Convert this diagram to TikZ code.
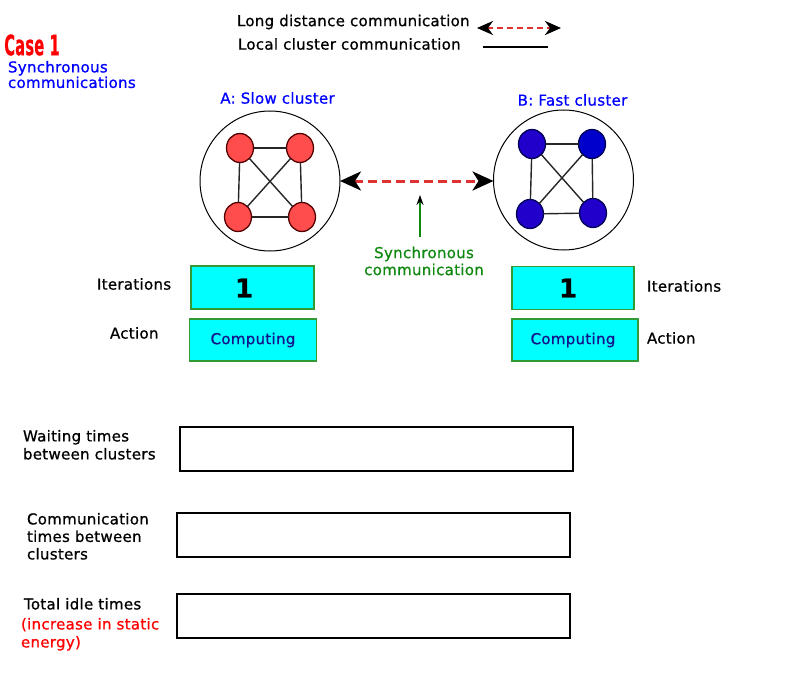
\documentclass[tikz,border=0pt]{standalone}
\usepackage{graphicx}
\usepackage{fontspec}
\setmainfont[LetterSpace=2,FakeBold=0.8]{DejaVu Sans}
\usetikzlibrary{arrows.meta,shapes.geometric}
\definecolor{nodered}{RGB}{255,77,77}
\definecolor{nodeborder}{RGB}{85,0,0}
\definecolor{nodeblue}{RGB}{34,0,204}
\definecolor{nodeblueb}{RGB}{0,0,204}
\definecolor{navyborder}{RGB}{0,0,85}
\definecolor{linkred}{RGB}{221,51,51}
\definecolor{boxgreen}{RGB}{51,153,51}
\definecolor{boxcyan}{RGB}{0,255,255}
\definecolor{txtgreen}{RGB}{17,136,17}
\definecolor{txtblue}{RGB}{0,0,255}
\definecolor{compnavy}{RGB}{20,20,140}
\definecolor{casered}{RGB}{255,0,0}
\begin{document}
\begin{tikzpicture}[x=1pt,y=-1pt,
  font=\fontsize{15}{18}\selectfont,
  every node/.style={inner sep=0pt, outer sep=0pt},
  pcred/.style={ellipse, draw=nodeborder, line width=1.3pt, fill=nodered, minimum width=27pt, minimum height=29pt},
  pcblue/.style={ellipse, draw=navyborder, line width=1.3pt, fill=nodeblue, minimum width=27pt, minimum height=29pt},
  clus/.style={circle, draw=black, line width=1pt, minimum size=140pt},
  link/.style={black!85, line width=1.4pt},
  itbox/.style={draw=boxgreen, line width=1.3pt, fill=boxcyan, minimum width=123pt, minimum height=43pt},
  acbox/.style={draw=boxgreen, line width=1.3pt, fill=boxcyan, minimum width=127pt, minimum height=42pt},
  timebox/.style={draw=black, line width=1.3pt, fill=white, minimum width=393pt, minimum height=44pt},
  lbl/.style={anchor=west, text=black},
  longlink/.style={linkred, line width=3pt, dash pattern=on 9pt off 5pt},
  bigtip/.style={arrows={Stealth[color=black,length=21pt,width=19pt,inset=6pt]-Stealth[color=black,length=21pt,width=19pt,inset=6pt]}},
  smalltip/.style={arrows={Stealth[color=black,length=16pt,width=14pt,inset=5pt]-Stealth[color=black,length=16pt,width=14pt,inset=5pt]}}
]
\useasboundingbox (0,0) rectangle (800,698);
\fill[white] (0,0) rectangle (800,698);

% Legend
\node[lbl] (leg1) at (237,22) {Long distance communication};
\node[lbl] (leg2) at (238,44) {Local cluster communication};
\coordinate (la1) at (477,28);
\coordinate (la2) at (561,28);
\draw[longlink, line width=2.8pt, dash pattern=on 6pt off 4pt, smalltip] (la1) -- (la2);
\coordinate (ll1) at (483,47);
\coordinate (ll2) at (548,47);
\draw[black, line width=1.3pt] (ll1) -- (ll2);

% Case title
\node[text=casered, font=\fontsize{28}{28}\selectfont\bfseries] (case) at (32,45) {\scalebox{0.52}[1]{Case 1}};
\node[text=txtblue, anchor=north west, align=left, font=\fontsize{15}{14}\selectfont] (sync) at (8,61) {Synchronous\\communications};

% Cluster A
\node[text=txtblue] (atitle) at (277.5,98) {A: Slow cluster};
\node[clus] (ca) at (270,181) {};
\node[pcred] (a1) at (240,148) {};
\node[pcred] (a2) at (300,148) {};
\node[pcred] (a3) at (238,217) {};
\node[pcred] (a4) at (302,217) {};
\draw[link] (a1) -- (a2);
\draw[link] (a1) -- (a3);
\draw[link] (a2) -- (a4);
\draw[link] (a3) -- (a4);
\draw[link] (a1) -- (a4);
\draw[link] (a2) -- (a3);

% Cluster B
\node[text=txtblue] (btitle) at (572.5,100) {B: Fast cluster};
\node[clus] (cb) at (563.5,180) {};
\node[pcblue] (b1) at (532,144) {};
\node[pcblue, fill=nodeblueb] (b2) at (592,144) {};
\node[pcblue] (b3) at (530,214) {};
\node[pcblue] (b4) at (593,213) {};
\draw[link] (b1) -- (b2);
\draw[link] (b1) -- (b3);
\draw[link] (b2) -- (b4);
\draw[link] (b3) -- (b4);
\draw[link] (b1) -- (b4);
\draw[link] (b2) -- (b3);

% Long distance link
\draw[longlink, bigtip] (ca.east |- 0,181) -- (cb.west |- 0,181);

% Synchronous communication annotation
\coordinate (gs) at (420,237);
\coordinate (ge) at (420,195);
\draw[txtgreen, line width=1.5pt, -{Stealth[color=black,length=10pt,width=7pt]}] (gs) -- (ge);
\node[text=txtgreen, align=center, font=\fontsize{15}{17}\selectfont] (synccomm) at (424,261) {Synchronous\\communication};

% Iteration / action boxes A
\node[itbox] (ia) at (252.5,287.5) {};
\node[font=\fontsize{26}{26}\selectfont\bfseries] (ianum) at (244,288) {1};
\node[acbox] (aa) at (253,340) {};
\node[text=compnavy] (aatext) at (253,340) {Computing};
\node[lbl] (itla) at (97,284) {Iterations};
\node[lbl] (acla) at (110,333) {Action};

% Iteration / action boxes B
\node[itbox, minimum width=122pt] (ib) at (573,288) {};
\node[font=\fontsize{26}{26}\selectfont\bfseries] (ibnum) at (568,288) {1};
\node[acbox, minimum width=126pt] (ab) at (575,340) {};
\node[text=compnavy] (abtext) at (573,340) {Computing};
\node[lbl] (itlb) at (647,286) {Iterations};
\node[lbl] (aclb) at (647,338) {Action};

% Time boxes
\node[timebox] (wbox) at (376.5,449) {};
\node[timebox] (cbox) at (373.5,535) {};
\node[timebox] (tbox) at (373.5,616) {};

\node[anchor=north west, align=left] (wlbl) at (23,430) {Waiting times\\between clusters};
\node[anchor=north west, align=left, font=\fontsize{15}{17.5}\selectfont] (clbl) at (27,513) {Communication\\times between\\clusters};
\node[anchor=north west] (tlbl) at (24,598) {Total idle times};
\node[anchor=north west, align=left, text=casered] (tlbl2) at (21,618) {(increase in static\\energy)};
\end{tikzpicture}
\end{document}
